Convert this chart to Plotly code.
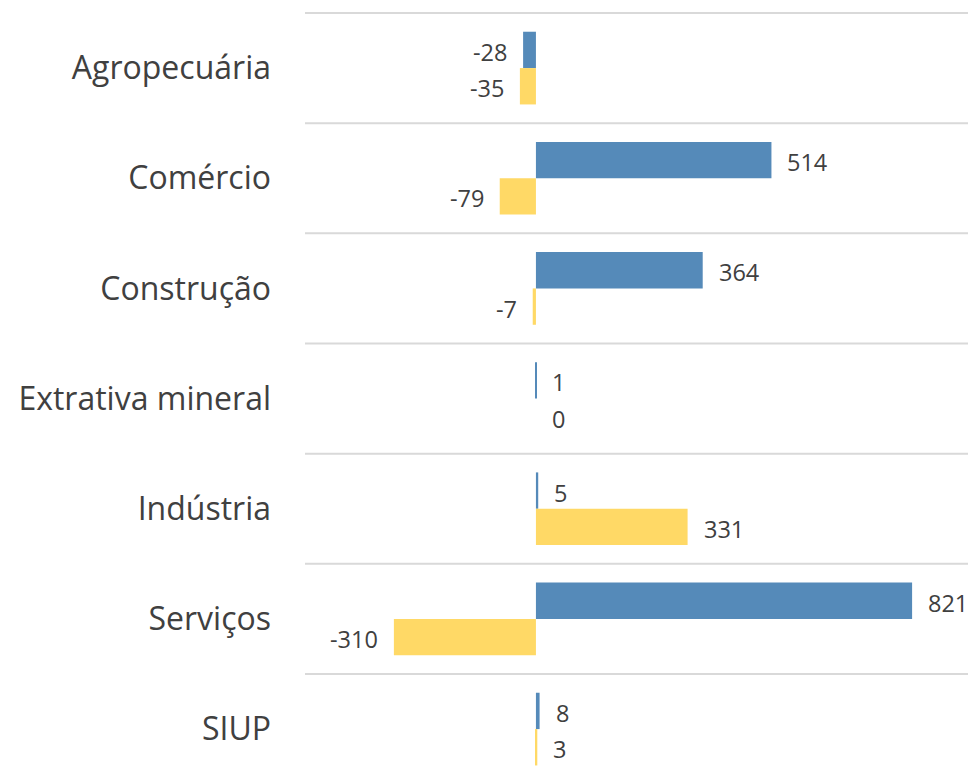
import plotly.graph_objects as go

# Setores e saldo de empregos por série
setores = ["Agropecuária", "Comércio", "Construção", "Extrativa mineral",
           "Indústria", "Serviços", "SIUP"]
serie_azul = [-28, 514, 364, 1, 5, 821, 8]
serie_amarela = [-35, -79, -7, 0, 331, -310, 3]

cor_azul = "#558AB9"
cor_amarela = "#FFD966"
cor_texto = "#404040"
fonte = "Open Sans"

fig = go.Figure()
fig.add_trace(go.Bar(y=setores, x=serie_azul, orientation="h",
                     marker=dict(color=cor_azul, line=dict(width=0)),
                     name="azul", hoverinfo="x"))
fig.add_trace(go.Bar(y=setores, x=serie_amarela, orientation="h",
                     marker=dict(color=cor_amarela, line=dict(width=0)),
                     name="amarela", hoverinfo="x"))

# Rótulos de valor ao lado de cada barra
n = len(setores)
offset = 0.165
anots = []
for i in range(n):
    for val, dy in ((serie_azul[i], -offset), (serie_amarela[i], offset)):
        neg = val < 0
        anots.append(dict(
            x=val, y=i + dy, xref="x", yref="y", text=str(val),
            showarrow=False, xanchor="right" if neg else "left",
            xshift=-14 if neg else 14, yshift=-2,
            font=dict(family=fonte, size=23.5, color=cor_texto)))

# Linhas separadoras entre setores
shapes = [dict(type="line", xref="paper", yref="y", x0=0, x1=1,
               y0=k - 0.5, y1=k - 0.5,
               line=dict(color="#D9D9D9", width=2), layer="below")
          for k in range(n + 1)]

fig.update_layout(
    width=968, height=779,
    margin=dict(l=305, r=0, t=0, b=0),
    plot_bgcolor="white", paper_bgcolor="white",
    barmode="group", bargap=0.34, bargroupgap=0,
    showlegend=False,
    annotations=anots, shapes=shapes,
    xaxis=dict(range=[-504, 943], showgrid=False, zeroline=False,
               showticklabels=False, fixedrange=True),
    yaxis=dict(type="category", categoryorder="array", categoryarray=setores,
               range=[6.453, -0.618], showgrid=False, zeroline=False,
               ticks="", ticklabelstandoff=33,
               tickfont=dict(family=fonte, size=32, color=cor_texto)),
)

fig.write_html("out.html")
